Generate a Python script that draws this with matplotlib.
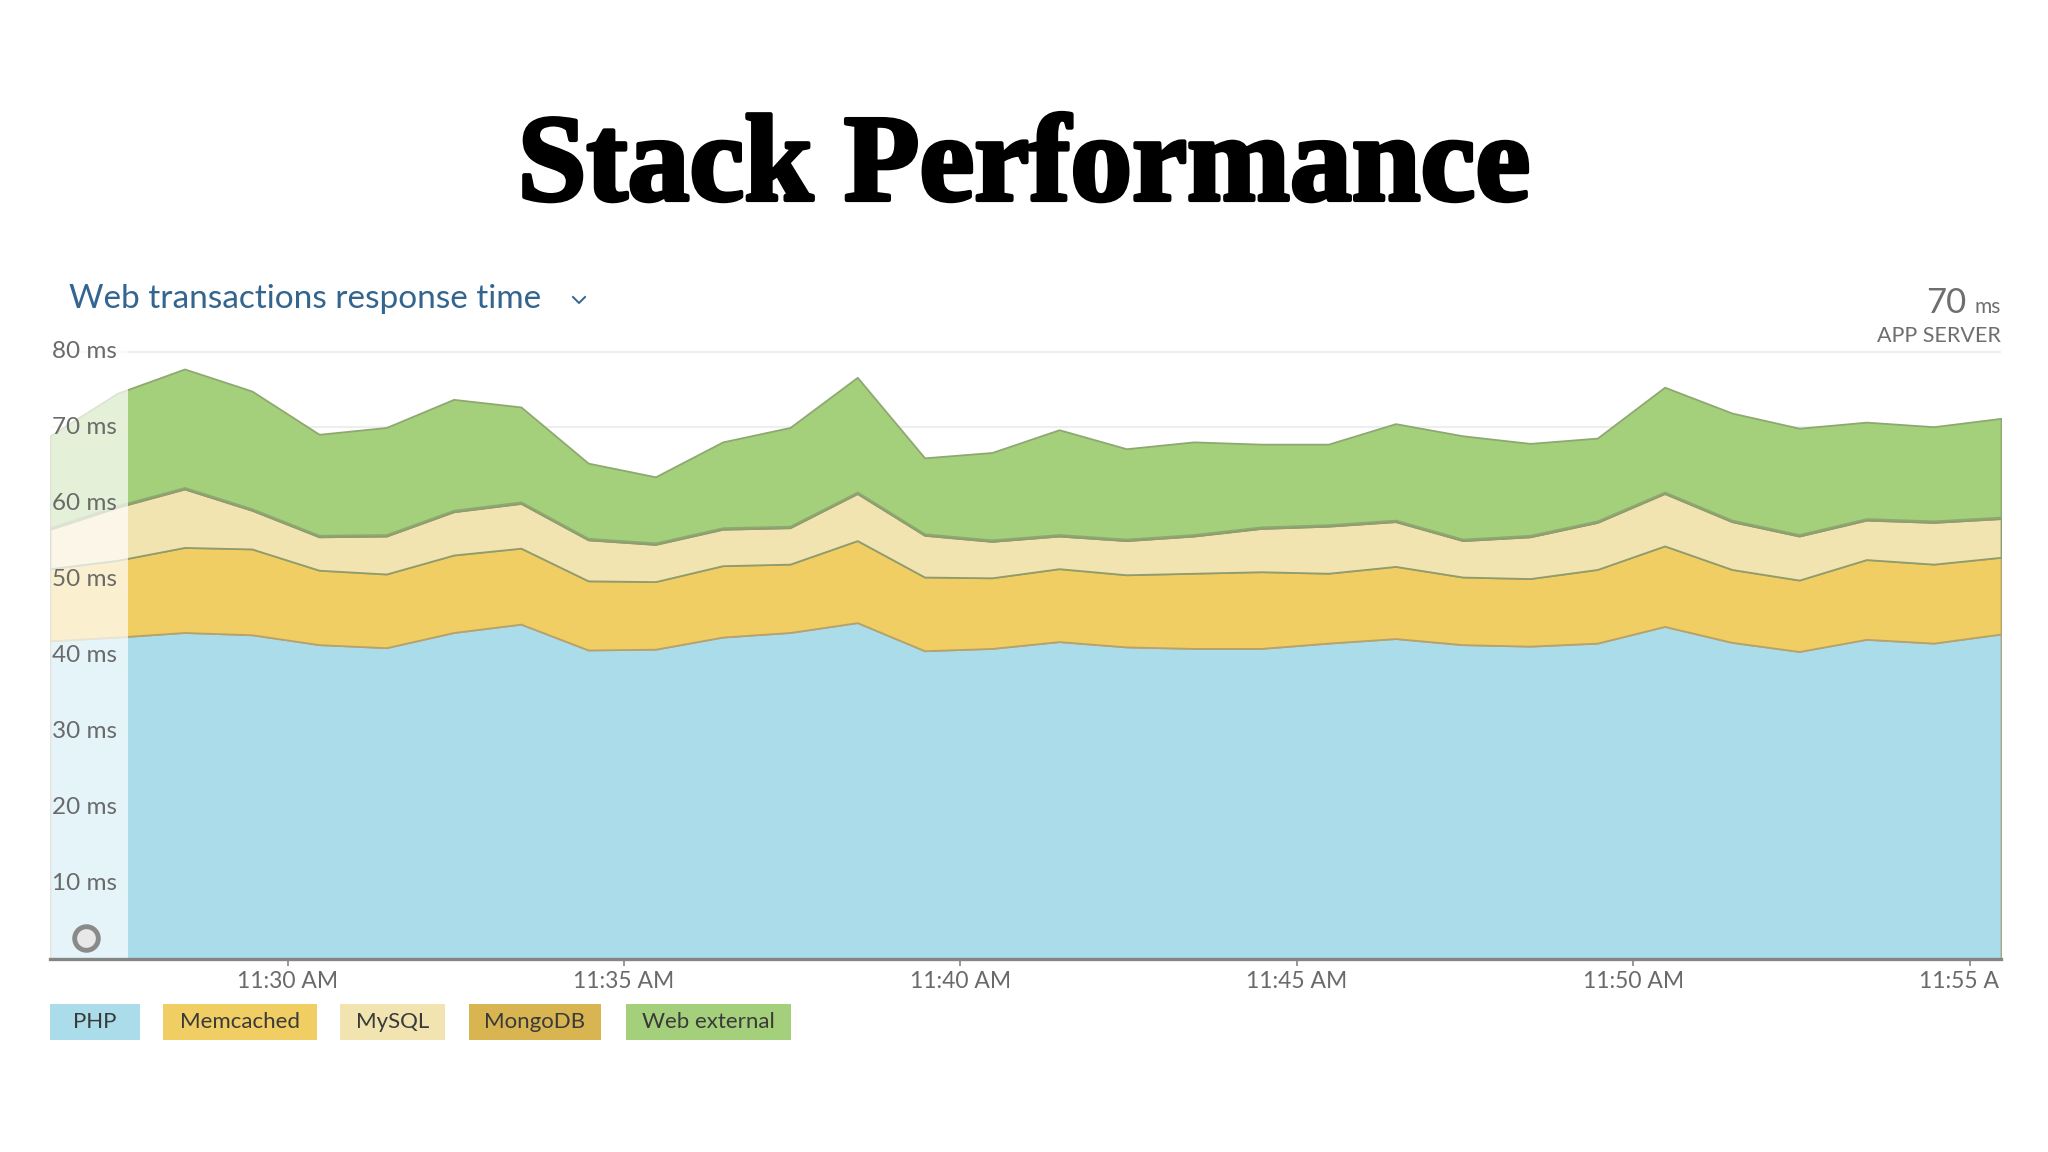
import numpy as np
import pandas as pd
import matplotlib
matplotlib.use("Agg")
import matplotlib.pyplot as plt
import matplotlib.dates as mdates
from matplotlib.patches import Rectangle
from matplotlib.lines import Line2D
import matplotlib.patheffects as pe

# one sample per minute, 11:26 .. 11:55
times = pd.date_range("2016-01-01 11:26:28", periods=30, freq="min")

php = [41.9, 42.4, 43.0, 42.7, 41.4, 41.0, 43.0, 44.1, 40.7, 40.8, 42.4, 43.0, 44.3, 40.6, 40.9,
       41.8, 41.1, 40.9, 40.9, 41.6, 42.2, 41.4, 41.2, 41.6, 43.8, 41.7, 40.5, 42.1, 41.6, 42.8]
memcached = [9.5, 10.1, 11.2, 11.3, 9.8, 9.7, 10.2, 10.0, 9.1, 8.9, 9.4, 9.0, 10.8, 9.7, 9.3,
             9.6, 9.5, 9.9, 10.1, 9.2, 9.5, 8.9, 8.9, 9.7, 10.6, 9.6, 9.4, 10.5, 10.4, 10.1]
mysql = [5.2, 7.0, 7.7, 5.1, 4.4, 5.0, 5.7, 5.9, 5.4, 4.9, 4.8, 4.8, 6.2, 5.5, 4.8,
         4.3, 4.5, 4.9, 5.7, 6.2, 5.9, 4.8, 5.5, 6.2, 6.9, 6.3, 5.8, 5.2, 5.5, 5.1]
mongodb = [0.2, 0.2, 0.2, 0.2, 0.2, 0.2, 0.2, 0.2, 0.2, 0.2, 0.2, 0.2, 0.2, 0.2, 0.2,
           0.2, 0.2, 0.2, 0.2, 0.2, 0.2, 0.2, 0.2, 0.2, 0.2, 0.2, 0.2, 0.2, 0.2, 0.2]
web_external = [12.1, 14.8, 15.6, 15.5, 13.3, 14.1, 14.6, 12.5, 9.9, 8.7, 11.3, 13.0, 15.1, 10.0, 11.5,
                13.8, 11.9, 12.2, 10.9, 10.6, 12.7, 13.6, 12.1, 10.9, 13.8, 14.1, 14.0, 12.7, 12.4, 13.0]

series_names = ["PHP", "Memcached", "MySQL", "MongoDB", "Web external"]
colors = ["#aadcea", "#f0ce63", "#f2e4b0", "#d9b552", "#a5d07b"]
edges = ["#a9a48a", "#b8a26a", "#8f9c6c", "#8f9c6c", "#8ea872"]
yticks = [10, 20, 30, 40, 50, 60, 70, 80]

W, H = 2048, 1152
fig = plt.figure(figsize=(W / 100, H / 100), dpi=100)
fig.patch.set_facecolor("white")

def fx(px):
    return px / W

def fy(py):
    return 1 - py / H

ax = fig.add_axes([fx(50), fy(959), fx(2001) - fx(50), fy(350) - fy(959)])
ax.set_facecolor("white")

polys = ax.stackplot(times, php, memcached, mysql, mongodb, web_external,
                     colors=colors, linewidth=1.3, zorder=2)
for p, ec in zip(polys, edges):
    p.set_edgecolor(ec)

for v in yticks:
    ax.axhline(v, color="#eeeef0", lw=1.5, zorder=1)

ax.set_xlim(times[0], times[-1])
ax.set_ylim(0, 80.2)

# faded region on the left
ax.add_patch(Rectangle((0, 0), (128 - 50) / (2001 - 50), 1, transform=ax.transAxes,
                       facecolor="white", alpha=0.7, edgecolor="none", zorder=3))

for v in yticks:
    ax.text(0.0008, v, f"{v} ms", transform=ax.get_yaxis_transform(), ha="left", va="center",
            fontsize=17.5, color="#6a6a6a", family="Lato", zorder=5)

ax.plot(0.0185, 0.034, transform=ax.transAxes, marker="o", ms=17, mfc="#e8e8e8",
        mec="#8a8a8a", mew=3.5, zorder=6, clip_on=False)

for s in ["top", "right", "left"]:
    ax.spines[s].set_visible(False)
ax.spines["bottom"].set_color("#858585")
ax.spines["bottom"].set_linewidth(2.4)
ax.spines["bottom"].set_zorder(6)
ax.set_yticks([])
ax.xaxis.set_major_locator(mdates.MinuteLocator(byminute=range(0, 60, 5)))
ax.xaxis.set_major_formatter(mdates.DateFormatter("%I:%M %p"))
ax.tick_params(axis="x", direction="out", length=5, width=1.2, color="#858585",
               labelsize=16.5, labelcolor="#6a6a6a", pad=4)
for lbl in ax.get_xticklabels():
    lbl.set_family("Lato")

# cut the last time label at the chart edge
fig.patches.append(Rectangle((fx(2000), fy(1000)), fx(48), fy(962) - fy(1000),
                             transform=fig.transFigure, facecolor="white", edgecolor="none",
                             zorder=10))

# titles
fig.text(0.5, fy(170), "Stack Performance", ha="center", va="center", fontsize=89,
         family="Liberation Serif", weight="bold", color="black",
         path_effects=[pe.withStroke(linewidth=3, foreground="black")])
fig.text(fx(69), fy(299), "Web transactions response time", ha="left", va="center",
         fontsize=24, family="Lato", color="#33658f")
fig.lines.append(Line2D([fx(573), fx(579), fx(585)], [fy(297), fy(303), fy(297)],
                        transform=fig.transFigure, color="#33658f", lw=1.4))
fig.text(fx(1966), fy(313), "70", ha="right", va="baseline", fontsize=25,
         family="Lato", color="#6e6e6e")
fig.text(fx(2001), fy(313), "ms", ha="right", va="baseline", fontsize=15,
         family="Lato", color="#6e6e6e")
fig.text(fx(2001), fy(336), "APP SERVER", ha="right", va="center", fontsize=15.5,
         family="Lato", color="#6e6e6e")

# legend chips
legend_x = [(50, 140), (163, 317), (340, 445), (469, 601), (626, 791)]
for name, col, (x0, x1) in zip(series_names, colors, legend_x):
    fig.patches.append(Rectangle((fx(x0), fy(1040)), fx(x1 - x0), fy(1004) - fy(1040),
                                 transform=fig.transFigure, facecolor=col, edgecolor="none"))
    fig.text(fx((x0 + x1) / 2), fy(1022), name, ha="center", va="center", fontsize=16,
             family="Lato", color="#3a3a3a")

fig.savefig("out.png", dpi=100)
